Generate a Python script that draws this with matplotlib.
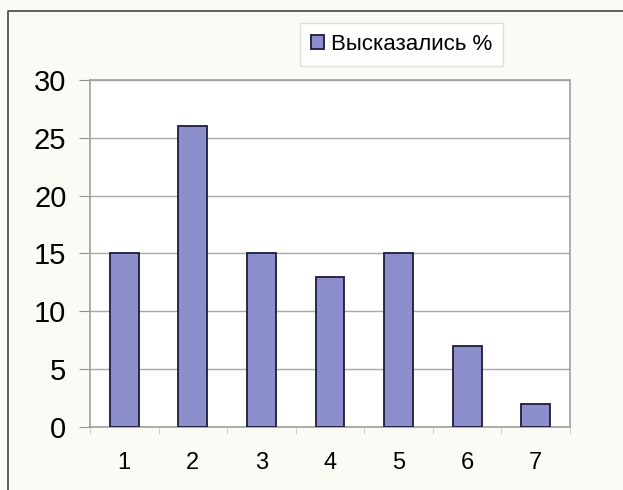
import numpy as np
import matplotlib
matplotlib.use('Agg')
import matplotlib.pyplot as plt
from matplotlib.lines import Line2D

# data
categories = ['1', '2', '3', '4', '5', '6', '7']
values = [15, 26, 15, 13, 15, 7, 2]
series_name = 'Высказались %'
y_ticks = [0, 5, 10, 15, 20, 25, 30]

plt.rcParams['font.family'] = ['Liberation Sans', 'DejaVu Sans']

fig = plt.figure(figsize=(6.23, 4.9), dpi=100)
fig.patch.set_facecolor('#fbfbf6')

# outer frame (only top and left edges show in the reference)
fx, fy = 8 / 623, 1 - 11 / 490
fig.add_artist(Line2D([fx, fx, 1.0], [0.0, fy, fy], transform=fig.transFigure,
                      color='#444444', linewidth=1.2))

ax = fig.add_axes([90 / 623, 63 / 490, 480 / 623, 347 / 490])
ax.set_facecolor('white')

x = np.arange(1, len(categories) + 1)
ax.bar(x, values, width=0.42, color='#8c8fcc', edgecolor='#1c1c3c',
       linewidth=1.3, label=series_name, zorder=3)

ax.set_xlim(0.5, len(categories) + 0.5)
ax.set_ylim(0, 30)
ax.set_yticks(y_ticks)
ax.set_yticklabels([str(t) for t in y_ticks], fontsize=21)
ax.set_xticks(x)
ax.set_xticklabels(categories, fontsize=17)
ax.set_xticks(np.arange(0.5, len(categories) + 1, 1), minor=True)

ax.yaxis.grid(True, color='#a8a8a8', linewidth=1, zorder=0)
ax.tick_params(axis='y', length=8, color='#909090', pad=9)
ax.tick_params(axis='x', which='major', length=0, pad=18)
ax.tick_params(axis='x', which='minor', length=5, color='#c8c8c8')

for s in ax.spines.values():
    s.set_color('#a0a0a0')
    s.set_linewidth(1.2)

leg = fig.legend(loc='upper left', bbox_to_anchor=(300 / 623, 1 - 23 / 490),
                 fontsize=16, frameon=True, fancybox=False, handlelength=0.6,
                 handleheight=0.6, handletextpad=0.3, borderpad=0.5,
                 borderaxespad=0)
leg.get_frame().set_edgecolor('#d8d8d8')
leg.get_frame().set_facecolor('white')

fig.savefig('out.png', dpi=100, facecolor=fig.get_facecolor())
